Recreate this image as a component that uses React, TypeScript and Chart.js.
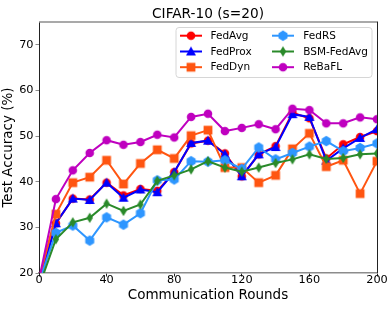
import React, { useEffect, useRef } from "react";
import { Chart, registerables } from "chart.js";

Chart.register(...registerables);

const rounds = [0, 10, 20, 30, 40, 50, 60, 70, 80, 90, 100, 110, 120, 130, 140, 150, 160, 170, 180, 190, 200];
const fedAvg = [18, 30.9, 36.3, 36.1, 39.8, 37.0, 38.4, 38.0, 42.1, 48.4, 49.0, 46.2, 41.2, 46.0, 47.8, 55.1, 53.9, 45.1, 48.2, 49.8, 51.1];
const fedProx = [17.5, 30.9, 36.3, 36.0, 39.8, 36.5, 38.3, 37.7, 42.1, 48.5, 49.0, 46.0, 41.2, 46.0, 47.6, 54.8, 54.2, 44.6, 47.3, 49.6, 51.5];
const fedDyn = [18.5, 32.9, 39.8, 41.0, 44.7, 39.5, 44.0, 47.0, 45.1, 50.1, 51.3, 43.1, 43.1, 39.8, 41.4, 47.2, 50.6, 43.3, 44.7, 37.4, 44.5];
const fedRS = [18, 28.8, 30.4, 27.1, 32.2, 30.6, 33.1, 40.3, 40.5, 44.5, 44.4, 44.7, 42.8, 47.5, 44.9, 46.3, 47.7, 48.9, 46.7, 47.4, 48.4];
const bsmFedAvg = [17, 27.4, 31.1, 32.1, 35.2, 33.6, 35.0, 40.2, 41.4, 42.7, 44.5, 43.1, 42.2, 43.1, 44.1, 44.9, 46.0, 45.0, 45.2, 46.0, 46.2];
const reBaFL = [18.5, 36.2, 42.5, 46.3, 49.1, 48.1, 48.7, 50.3, 49.7, 54.2, 54.9, 51.1, 51.8, 52.6, 51.5, 56.0, 55.7, 52.8, 52.8, 54.1, 53.7];

const seriesNames = ["FedAvg", "FedProx", "FedDyn", "FedRS", "BSM-FedAvg", "ReBaFL"];
const seriesValues = [fedAvg, fedProx, fedDyn, fedRS, bsmFedAvg, reBaFL];
const seriesColors = ["#ff0000", "#0000ff", "#ff5511", "#2e96ff", "#2a8a2a", "#bf00bf"];
const seriesMarkers = ["circle", "triangle", "square", "hexagon", "thinDiamond", "circle"];

const xTicks = [0, 40, 80, 120, 160, 200];
const yTicks = [20, 30, 40, 50, 60, 70];
const titleText = "CIFAR-10 (s=20)";
const xTitle = "Communication Rounds";
const yTitle = "Test Accuracy (%)";

const FONT = "'DejaVu Sans', sans-serif";
const H_SPINE = "#8c8c8c";
const V_SPINE = "#222";

function makeMarker(kind: string, color: string): HTMLCanvasElement {
  const s = 14;
  const c = document.createElement("canvas");
  c.width = s;
  c.height = s;
  const ctx = c.getContext("2d")!;
  ctx.fillStyle = color;
  const m = s / 2;
  ctx.beginPath();
  if (kind === "circle") {
    ctx.arc(m, m, 4.3, 0, Math.PI * 2);
  } else if (kind === "triangle") {
    ctx.moveTo(m, m - 5);
    ctx.lineTo(m + 5, m + 4);
    ctx.lineTo(m - 5, m + 4);
    ctx.closePath();
  } else if (kind === "square") {
    ctx.rect(m - 4.4, m - 4.4, 8.8, 8.8);
  } else if (kind === "hexagon") {
    for (let i = 0; i < 6; i++) {
      const a = -Math.PI / 2 + (i * Math.PI) / 3;
      const px = m + 5.2 * Math.cos(a);
      const py = m + 5.2 * Math.sin(a);
      if (i === 0) ctx.moveTo(px, py);
      else ctx.lineTo(px, py);
    }
    ctx.closePath();
  } else if (kind === "thinDiamond") {
    ctx.moveTo(m, m - 5.3);
    ctx.lineTo(m + 3.2, m);
    ctx.lineTo(m, m + 5.3);
    ctx.lineTo(m - 3.2, m);
    ctx.closePath();
  }
  ctx.fill();
  return c;
}

export default function App() {
  const ref = useRef<HTMLCanvasElement | null>(null);

  useEffect(() => {
    if (!ref.current) return;
    const markers = seriesNames.map((_, i) => makeMarker(seriesMarkers[i], seriesColors[i]));

    const framePlugin = {
      id: "frameAndLegend",
      afterDraw(chart: any) {
        const ctx = chart.ctx as CanvasRenderingContext2D;
        const a = chart.chartArea;
        ctx.save();
        // top spine
        ctx.strokeStyle = H_SPINE;
        ctx.lineWidth = 1.5;
        ctx.beginPath();
        ctx.moveTo(a.left, a.top);
        ctx.lineTo(a.right, a.top);
        ctx.stroke();
        // right spine
        ctx.strokeStyle = V_SPINE;
        ctx.lineWidth = 1;
        ctx.beginPath();
        ctx.moveTo(a.right + 0.5, a.top - 0.5);
        ctx.lineTo(a.right + 0.5, a.bottom);
        ctx.stroke();
        // title
        ctx.fillStyle = "#000";
        ctx.font = `13.7px ${FONT}`;
        ctx.textAlign = "center";
        ctx.textBaseline = "alphabetic";
        ctx.fillText(titleText, (a.left + a.right) / 2, 17.5);
        // legend box
        const bx = 176, by = 27.5, bw = 196, bh = 50, r = 3;
        ctx.beginPath();
        ctx.moveTo(bx + r, by);
        ctx.lineTo(bx + bw - r, by);
        ctx.quadraticCurveTo(bx + bw, by, bx + bw, by + r);
        ctx.lineTo(bx + bw, by + bh - r);
        ctx.quadraticCurveTo(bx + bw, by + bh, bx + bw - r, by + bh);
        ctx.lineTo(bx + r, by + bh);
        ctx.quadraticCurveTo(bx, by + bh, bx, by + bh - r);
        ctx.lineTo(bx, by + r);
        ctx.quadraticCurveTo(bx, by, bx + r, by);
        ctx.closePath();
        ctx.fillStyle = "rgba(255,255,255,0.8)";
        ctx.fill();
        ctx.strokeStyle = "#d6d6d6";
        ctx.lineWidth = 1;
        ctx.stroke();
        const rowsY = [35.7, 51.5, 67.2];
        const cols = [
          { x0: 180, x1: 202, tx: 210.5 },
          { x0: 272, x1: 294, tx: 303.3 },
        ];
        ctx.font = `10.5px ${FONT}`;
        ctx.textAlign = "left";
        ctx.textBaseline = "middle";
        seriesNames.forEach((name, i) => {
          const col = cols[Math.floor(i / 3)];
          const y = rowsY[i % 3];
          ctx.strokeStyle = seriesColors[i];
          ctx.lineWidth = 2;
          ctx.beginPath();
          ctx.moveTo(col.x0, y);
          ctx.lineTo(col.x1, y);
          ctx.stroke();
          const mk = markers[i];
          ctx.drawImage(mk, (col.x0 + col.x1) / 2 - mk.width / 2, y - mk.height / 2);
          ctx.fillStyle = "#000";
          ctx.fillText(name, col.tx, y + 0.5);
        });
        ctx.restore();
      },
    };

    const chart = new Chart(ref.current, {
      type: "line",
      data: {
        datasets: seriesNames.map((name, i) => ({
          label: name,
          data: rounds.map((r, j) => ({ x: r, y: seriesValues[i][j] })),
          borderColor: seriesColors[i],
          backgroundColor: seriesColors[i],
          borderWidth: 2,
          pointStyle: markers[i] as any,
          pointRadius: 4.5,
          fill: false,
          tension: 0,
          order: seriesNames.length - i,
        })),
      },
      options: {
        responsive: false,
        animation: false,
        layout: { padding: { top: 22, right: 14, left: 0, bottom: 0 } },
        plugins: {
          legend: { display: false },
          title: { display: false },
          tooltip: { enabled: false },
        },
        scales: {
          x: {
            type: "linear",
            min: 0,
            max: 200,
            afterFit: (s: any) => {
              s.height = 37;
            },
            afterBuildTicks: (s: any) => {
              s.ticks = xTicks.map((v) => ({ value: v }));
            },
            ticks: {
              color: "#000",
              font: { family: FONT, size: 11.3, lineHeight: 1 },
              padding: -2,
              maxRotation: 0,
              autoSkip: false,
            },
            grid: { display: true, drawOnChartArea: false, drawTicks: true, tickLength: 3.5, color: V_SPINE },
            border: { display: true, color: H_SPINE, width: 1.5 },
            title: {
              display: true,
              text: xTitle,
              color: "#000",
              font: { family: FONT, size: 13.5, lineHeight: 1.2 },
              padding: { top: 0, bottom: 6.5 },
            },
          },
          y: {
            type: "linear",
            min: 20,
            max: 75,
            afterFit: (s: any) => {
              s.width = 39;
            },
            afterBuildTicks: (s: any) => {
              s.ticks = yTicks.map((v) => ({ value: v }));
            },
            ticks: {
              color: "#000",
              font: { family: FONT, size: 11.3 },
              padding: 2,
              autoSkip: false,
            },
            grid: { display: true, drawOnChartArea: false, drawTicks: true, tickLength: 3.5, color: H_SPINE },
            border: { display: true, color: V_SPINE, width: 1 },
            title: {
              display: true,
              text: yTitle,
              color: "#000",
              font: { family: FONT, size: 13.5, lineHeight: 1.2 },
              padding: { top: 0, bottom: 0 },
            },
          },
        },
      },
      plugins: [framePlugin],
    });
    return () => chart.destroy();
  }, []);

  return (
    <div style={{ position: "absolute", left: 0, top: 0, width: 391, height: 310 }}>
      <canvas ref={ref} width={391} height={310} />
    </div>
  );
}
